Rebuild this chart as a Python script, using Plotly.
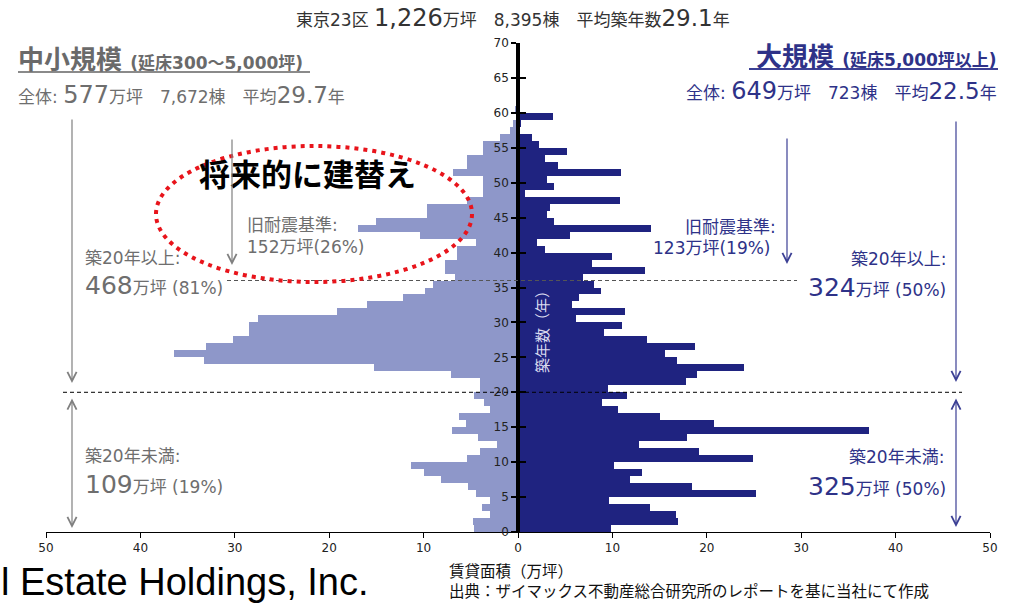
import plotly.graph_objects as go

# ---------------- data ----------------
ages = list(range(0, 61))  # 築年数 (years)
small_mid = [4.7, 4.8, 3.0, 3.8, 3.0, 4.5, 5.3, 8.2, 10.0, 11.3,
             5.4, 4.0, 2.2, 4.2, 7.0, 5.5, 6.2, 3.0, 3.6, 4.7,
             4.0, 4.0, 7.1, 15.3, 33.3, 36.4, 33.0, 30.2, 28.5, 28.5,
             27.5, 19.2, 16.0, 12.2, 9.8, 9.0, 6.7, 7.7, 7.7, 6.5,
             6.5, 4.5, 10.4, 16.9, 15.0, 9.6, 9.6, 5.4, 3.7, 3.7,
             3.7, 6.9, 5.4, 5.4, 3.7, 3.7, 1.9, 0.9, 0.5, 0.15, 0.3]
large = [9.8, 17.0, 16.7, 14.0, 9.6, 25.2, 18.4, 11.9, 13.1, 10.2,
         24.9, 19.2, 12.8, 17.9, 37.2, 20.8, 15.0, 10.6, 8.9, 11.5,
         9.5, 17.8, 19.0, 23.9, 16.8, 15.6, 18.7, 13.7, 9.1, 11.0,
         6.1, 11.3, 5.7, 6.5, 8.8, 8.1, 6.9, 13.5, 7.8, 10.0,
         2.9, 2.0, 5.5, 14.1, 3.8, 3.1, 3.4, 10.8, 0.7, 3.8,
         3.1, 10.9, 4.2, 2.9, 5.2, 2.2, 1.5, 0.0, 0.3, 3.7, 0.0]
x_tickvals = [-50, -40, -30, -20, -10, 0, 10, 20, 30, 40, 50]
x_ticktext = ["50", "40", "30", "20", "10", "0", "10", "20", "30", "40", "50"]
y_tickvals = [0, 5, 10, 15, 20, 25, 30, 35, 40, 45, 50, 55, 60, 65, 70]

LIGHT = "#8e97c9"
NAVY = "#1f2380"
GRAY_T = "#6e6e6e"
NAVY_T = "#2e3288"
JP = "DejaVu Sans, Noto Sans CJK JP"

# plot area in pixels
L, T, W, H = 46, 43, 944, 489


def px(x):
    return (x - L) / W


def py(y):
    return (T + H - y) / H


fig = go.Figure()
fig.add_bar(y=[a + 0.5 for a in ages], x=[-v for v in small_mid], orientation="h",
            width=1, marker=dict(color=LIGHT, line=dict(width=0)),
            name="中小規模", showlegend=False)
fig.add_bar(y=[a + 0.5 for a in ages], x=large, orientation="h",
            width=1, marker=dict(color=NAVY, line=dict(width=0)),
            name="大規模", showlegend=False)
# helper trace to carry the inner tick marks of the centre axis
fig.add_scatter(x=[0], y=[0], yaxis="y2", mode="markers",
                marker=dict(opacity=0), hoverinfo="skip", showlegend=False)

ann = []


def txt(x, y, text, size=17, color=GRAY_T, anchor="left", family=JP, angle=0, yanchor="middle"):
    ann.append(dict(x=px(x), y=py(y), xref="paper", yref="paper", text=text,
                    showarrow=False, xanchor=anchor, yanchor=yanchor, align="left",
                    textangle=angle, font=dict(size=size, color=color, family=family)))


def arrow(x, y_head, y_tail, color, both=False):
    d = dict(x=px(x), y=py(y_head), xref="paper", yref="paper", text="",
             showarrow=True, ax=0, ay=y_tail - y_head, arrowcolor=color,
             arrowhead=5, arrowsize=1.5, arrowwidth=1.2, standoff=0)
    if both:
        d.update(arrowside="end+start", startarrowhead=5, startarrowsize=1.5, startstandoff=0)
    ann.append(d)


big = "<span style='font-size:{}px'>{}</span>"

# header
txt(513, 18, "東京23区 " + big.format(24, "1,226") + "万坪　8,395棟　平均築年数"
    + big.format(23, "29.1") + "年", size=17, color="#333333", anchor="center")
# left block
txt(16, 60, "<b>中小規模</b> <b><span style='font-size:17px'>(延床300～5,000坪)</span></b>",
    size=26, color="#6a6a6a")
txt(16, 95, "全体: " + big.format(24, "577") + "万坪　7,672棟　平均" + big.format(23, "29.7") + "年",
    size=17, color=GRAY_T)
# right block
txt(999, 57, "<b>大規模</b> <b><span style='font-size:17px'>(延床5,000坪以上)</span></b>",
    size=26, color=NAVY_T, anchor="right")
txt(999, 91, "全体: " + big.format(24, "649") + "万坪　723棟　平均" + big.format(23, "22.5") + "年",
    size=17, color=NAVY_T, anchor="right")

txt(307, 172, "<b>将来的に建替え</b>", size=31, color="#000000", anchor="center",
    family="Noto Sans CJK JP")

txt(245, 225, "旧耐震基準:", size=17, color=GRAY_T)
txt(245, 247, "152万坪(26%)", size=17, color=GRAY_T)
txt(83, 258, "築20年以上:", size=17, color=GRAY_T)
txt(83, 285, big.format(25, "468") + "万坪 (81%)", size=17, color=GRAY_T)
txt(83, 456, "築20年未満:", size=17, color=GRAY_T)
txt(83, 484, big.format(25, "109") + "万坪 (19%)", size=17, color=GRAY_T)

txt(778, 227, "旧耐震基準:", size=17, color=NAVY_T, anchor="right")
txt(773, 248, "123万坪(19%)", size=17, color=NAVY_T, anchor="right")
txt(948, 259, "築20年以上:", size=17, color=NAVY_T, anchor="right")
txt(948, 287, big.format(25, "324") + "万坪 (50%)", size=17, color=NAVY_T, anchor="right")
txt(946, 457, "築20年未満:", size=17, color=NAVY_T, anchor="right")
txt(948, 486, big.format(25, "325") + "万坪 (50%)", size=17, color=NAVY_T, anchor="right")

txt(541, 328, "築年数（年）", size=15, color="#dcdcf0", anchor="center",
    family="Noto Sans CJK JP", angle=-90)
# x-axis title and source note (two lines, one block)
txt(447, 603, "賃貸面積（万坪）<br>出典：ザイマックス不動産総合研究所のレポートを基に当社にて作成",
    size=15.5, color="#111111", family="Noto Sans CJK JP", yanchor="bottom")
txt(-1, 582, "l Estate Holdings, Inc.", size=38, color="#000000", family="Liberation Sans")

# arrows
arrow(72, 383, 118, "#808080")
arrow(72, 528, 397, "#808080", both=True)
arrow(232, 265, 138, "#808080")
arrow(787, 264, 137, "#3c4095")
arrow(956, 382, 120, "#3c4095")
arrow(956, 527, 397, "#3c4095", both=True)

shapes = [
    # 築20年 boundary
    dict(type="line", xref="paper", yref="y", x0=px(63), x1=px(962), y0=20, y1=20,
         line=dict(color="#000000", width=1, dash="4px,3px")),
    # 旧耐震 boundary
    dict(type="line", xref="paper", yref="y", x0=px(227), x1=px(797), y0=36, y1=36,
         line=dict(color="#555555", width=1, dash="4px,3px")),
    # red dotted ellipse
    dict(type="circle", xref="paper", yref="paper", x0=px(156), x1=px(472),
         y0=py(282), y1=py(146), line=dict(color="#e8141b", width=4, dash="4px,5px")),
    # underlines of the titles
    dict(type="line", xref="paper", yref="paper", x0=px(18), x1=px(310), y0=py(72), y1=py(72),
         line=dict(color="#8a8a8a", width=2)),
    dict(type="line", xref="paper", yref="paper", x0=px(749), x1=px(998), y0=py(69), y1=py(69),
         line=dict(color="#3c4095", width=2)),
]

fig.update_layout(
    width=1015, height=603,
    margin=dict(l=L, r=1015 - L - W, t=T, b=603 - T - H),
    paper_bgcolor="white", plot_bgcolor="white",
    barmode="relative", bargap=0,
    xaxis=dict(range=[-50, 50], tickvals=x_tickvals, ticktext=x_ticktext,
               showline=True, linecolor="#000000", linewidth=1, ticks="outside",
               ticklen=5, tickcolor="#000000", showgrid=False, zeroline=False,
               tickfont=dict(size=12, color="#222222", family="DejaVu Sans"), fixedrange=True),
    yaxis=dict(range=[0, 70], tickvals=y_tickvals, anchor="free", position=0.5,
               showline=True, linecolor="#000000", linewidth=3.5, ticks="outside",
               ticklen=5, tickwidth=2, tickcolor="#000000", showgrid=False, zeroline=False,
               tickfont=dict(size=12, color="#222222", family="DejaVu Sans")),
    yaxis2=dict(range=[0, 70], tickvals=y_tickvals, overlaying="y", anchor="free",
                position=0.5, side="left", showline=False, ticks="inside", ticklen=7,
                tickwidth=2, tickcolor="#000000", showticklabels=False,
                showgrid=False, zeroline=False),
    annotations=ann, shapes=shapes,
)

fig.write_html("out.html")
